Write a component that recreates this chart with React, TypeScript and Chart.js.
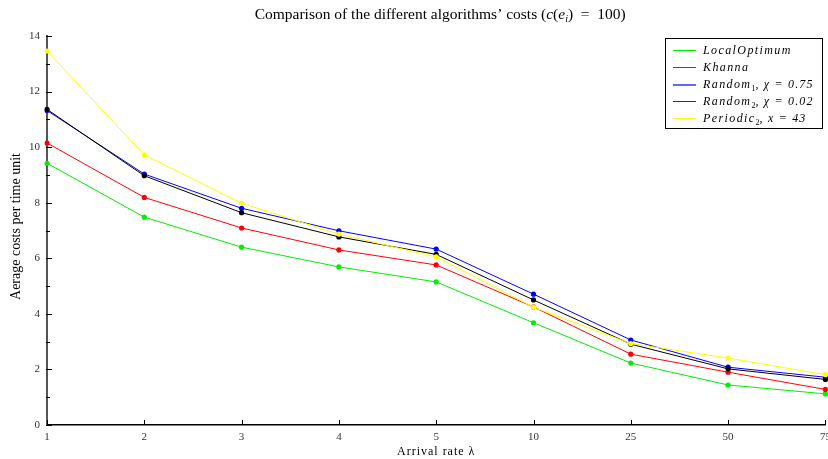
import React, { useEffect, useRef } from 'react';
import { Chart, registerables } from 'chart.js';
Chart.register(...registerables);

const categories = ['1', '2', '3', '4', '5', '10', '25', '50', '75'];
const localOptimum = [9.42, 7.48, 6.4, 5.69, 5.15, 3.68, 2.23, 1.44, 1.12];
const khanna = [10.15, 8.19, 7.09, 6.3, 5.76, 4.25, 2.55, 1.9, 1.28];
const random1 = [11.32, 9.03, 7.8, 6.99, 6.33, 4.71, 3.06, 2.08, 1.72];
const random2 = [11.36, 8.97, 7.64, 6.77, 6.14, 4.5, 2.91, 2.02, 1.64];
const periodic2 = [13.46, 9.72, 7.98, 6.87, 6.05, 4.24, 2.93, 2.41, 1.81];

const seriesData = [localOptimum, khanna, random1, random2, periodic2];
const seriesColors = ['#00ee00', '#ff0000', '#0000ff', '#000000', '#ffff00'];
const legendColors = ['#00ee00', '#ff0000', '#6666ff', '#333333', '#ffff00'];
const legendNames = ['LocalOptimum', 'Khanna', 'Random', 'Random', 'Periodic'];
const legendSubs = ['', '', '1', '2', '2'];
const legendParams = ['', '', ', χ = 0.75', ', χ = 0.02', ', x = 43'];

const titleText = 'Comparison of the different algorithms’ costs (';
const xLabel = 'Arrival rate λ';
const yLabel = 'Aerage costs per time unit';
const yMax = 14;
const yStep = 2;

const SERIF = '"Liberation Serif", "DejaVu Serif", serif';

const decorPlugin = {
  id: 'decor',
  afterDraw(chart: any) {
    const ctx = chart.ctx as CanvasRenderingContext2D;
    const area = chart.chartArea;
    const xs = chart.scales.x;
    const ys = chart.scales.y;
    ctx.save();
    // inward ticks
    ctx.strokeStyle = '#000';
    ctx.lineWidth = 1;
    for (let v = 0; v <= yMax; v += 1) {
      const y = Math.round(ys.getPixelForValue(v)) + 0.5;
      const len = v % yStep === 0 ? 5 : 3;
      ctx.beginPath();
      ctx.moveTo(area.left - 1, y);
      ctx.lineTo(area.left + len, y);
      ctx.stroke();
    }
    for (let i = 0; i < categories.length; i++) {
      const x = Math.round(xs.getPixelForValue(i)) + 0.5;
      ctx.beginPath();
      ctx.moveTo(x, area.bottom);
      ctx.lineTo(x, area.bottom - 5);
      ctx.stroke();
    }

    // title with math parts
    ctx.fillStyle = '#000';
    ctx.textBaseline = 'alphabetic';
    const segs: [string, string, number][] = [
      [titleText, `15.5px ${SERIF}`, 0],
      ['c', `italic 15.5px ${SERIF}`, 0],
      ['(', `15.5px ${SERIF}`, 0],
      ['e', `italic 15.5px ${SERIF}`, 0],
      ['i', `italic 10px ${SERIF}`, 3],
      [')  =  100)', `15.5px ${SERIF}`, 0],
    ];
    let total = 0;
    for (const s of segs) {
      ctx.font = s[1];
      total += ctx.measureText(s[0]).width;
    }
    let tx = (area.left + area.right) / 2 - total / 2 + 4;
    for (const s of segs) {
      ctx.font = s[1];
      ctx.fillText(s[0], tx, 19 + s[2]);
      tx += ctx.measureText(s[0]).width;
    }

    // axis labels
    ctx.font = `12px ${SERIF}`;
    (ctx as any).letterSpacing = '1px';
    ctx.textAlign = 'center';
    ctx.fillText(xLabel, (area.left + area.right) / 2, 455);
    (ctx as any).letterSpacing = '0px';
    ctx.save();
    ctx.translate(20, (area.top + area.bottom) / 2 - 4);
    ctx.rotate(-Math.PI / 2);
    ctx.font = `14px ${SERIF}`;
    ctx.fillText(yLabel, 0, 0);
    ctx.restore();

    // legend
    const lx = 665, ly = 38, lw = 157, lh = 90;
    ctx.fillStyle = '#fff';
    ctx.fillRect(lx, ly, lw, lh);
    ctx.strokeStyle = '#000';
    ctx.lineWidth = 1;
    ctx.strokeRect(lx + 0.5, ly + 0.5, lw, lh);
    ctx.textAlign = 'left';
    for (let i = 0; i < legendNames.length; i++) {
      const y = 50 + i * 17;
      ctx.fillStyle = legendColors[i];
      ctx.fillRect(673, y, 23, i === 2 ? 2 : 1);
      ctx.fillStyle = '#000';
      let x = 703;
      (ctx as any).letterSpacing = '1.4px';
      ctx.font = `italic 12px ${SERIF}`;
      ctx.fillText(legendNames[i], x, y + 4);
      x += ctx.measureText(legendNames[i]).width;
      if (legendSubs[i]) {
        (ctx as any).letterSpacing = '0px';
        ctx.font = `8px ${SERIF}`;
        ctx.fillText(legendSubs[i], x, y + 7);
        x += ctx.measureText(legendSubs[i]).width;
        ctx.font = `italic 12px ${SERIF}`;
        (ctx as any).letterSpacing = '1.2px';
        ctx.fillText(legendParams[i], x, y + 4);
      }
      (ctx as any).letterSpacing = '0px';
    }
    ctx.restore();
  },
};

export default function App() {
  const ref = useRef<HTMLCanvasElement>(null);
  useEffect(() => {
    document.body.style.margin = '0';
    const chart = new Chart(ref.current!, {
      type: 'line',
      data: {
        labels: categories,
        datasets: seriesData.map((d, i) => ({
          label: legendNames[i],
          data: d,
          borderColor: seriesColors[i],
          backgroundColor: seriesColors[i],
          borderWidth: 1,
          pointRadius: 2.6,
          pointBorderWidth: 0,
          pointHoverRadius: 2.6,
          tension: 0,
          order: seriesData.length - i,
        })),
      },
      options: {
        animation: false,
        responsive: false,
        events: [],
        layout: { padding: { top: 36, right: 2, left: 0, bottom: 0 } },
        plugins: { legend: { display: false }, title: { display: false }, tooltip: { enabled: false } },
        scales: {
          x: {
            type: 'category',
            offset: false,
            grid: { display: true, drawOnChartArea: false, drawTicks: false },
            border: { display: true, color: '#000', width: 1.5 },
            ticks: {
              color: '#333',
              padding: 6,
              maxRotation: 0,
              autoSkip: false,
              font: { family: SERIF, size: 11 },
            },
            afterFit: (s: any) => {
              s.height = 34;
              s.paddingLeft = 0;
              s.paddingRight = 0;
            },
          },
          y: {
            min: 0,
            max: yMax,
            grid: { display: true, drawOnChartArea: false, drawTicks: false },
            border: { display: true, color: '#555', width: 2 },
            ticks: {
              stepSize: yStep,
              color: '#333',
              padding: 7,
              font: { family: SERIF, size: 11 },
            },
            afterFit: (s: any) => {
              s.width = 47;
              s.paddingTop = 0;
              s.paddingBottom = 0;
            },
          },
        },
      },
      plugins: [decorPlugin],
    });
    return () => chart.destroy();
  }, []);
  return (
    <div style={{ width: 828, height: 459 }}>
      <canvas ref={ref} width={828} height={459} />
    </div>
  );
}
